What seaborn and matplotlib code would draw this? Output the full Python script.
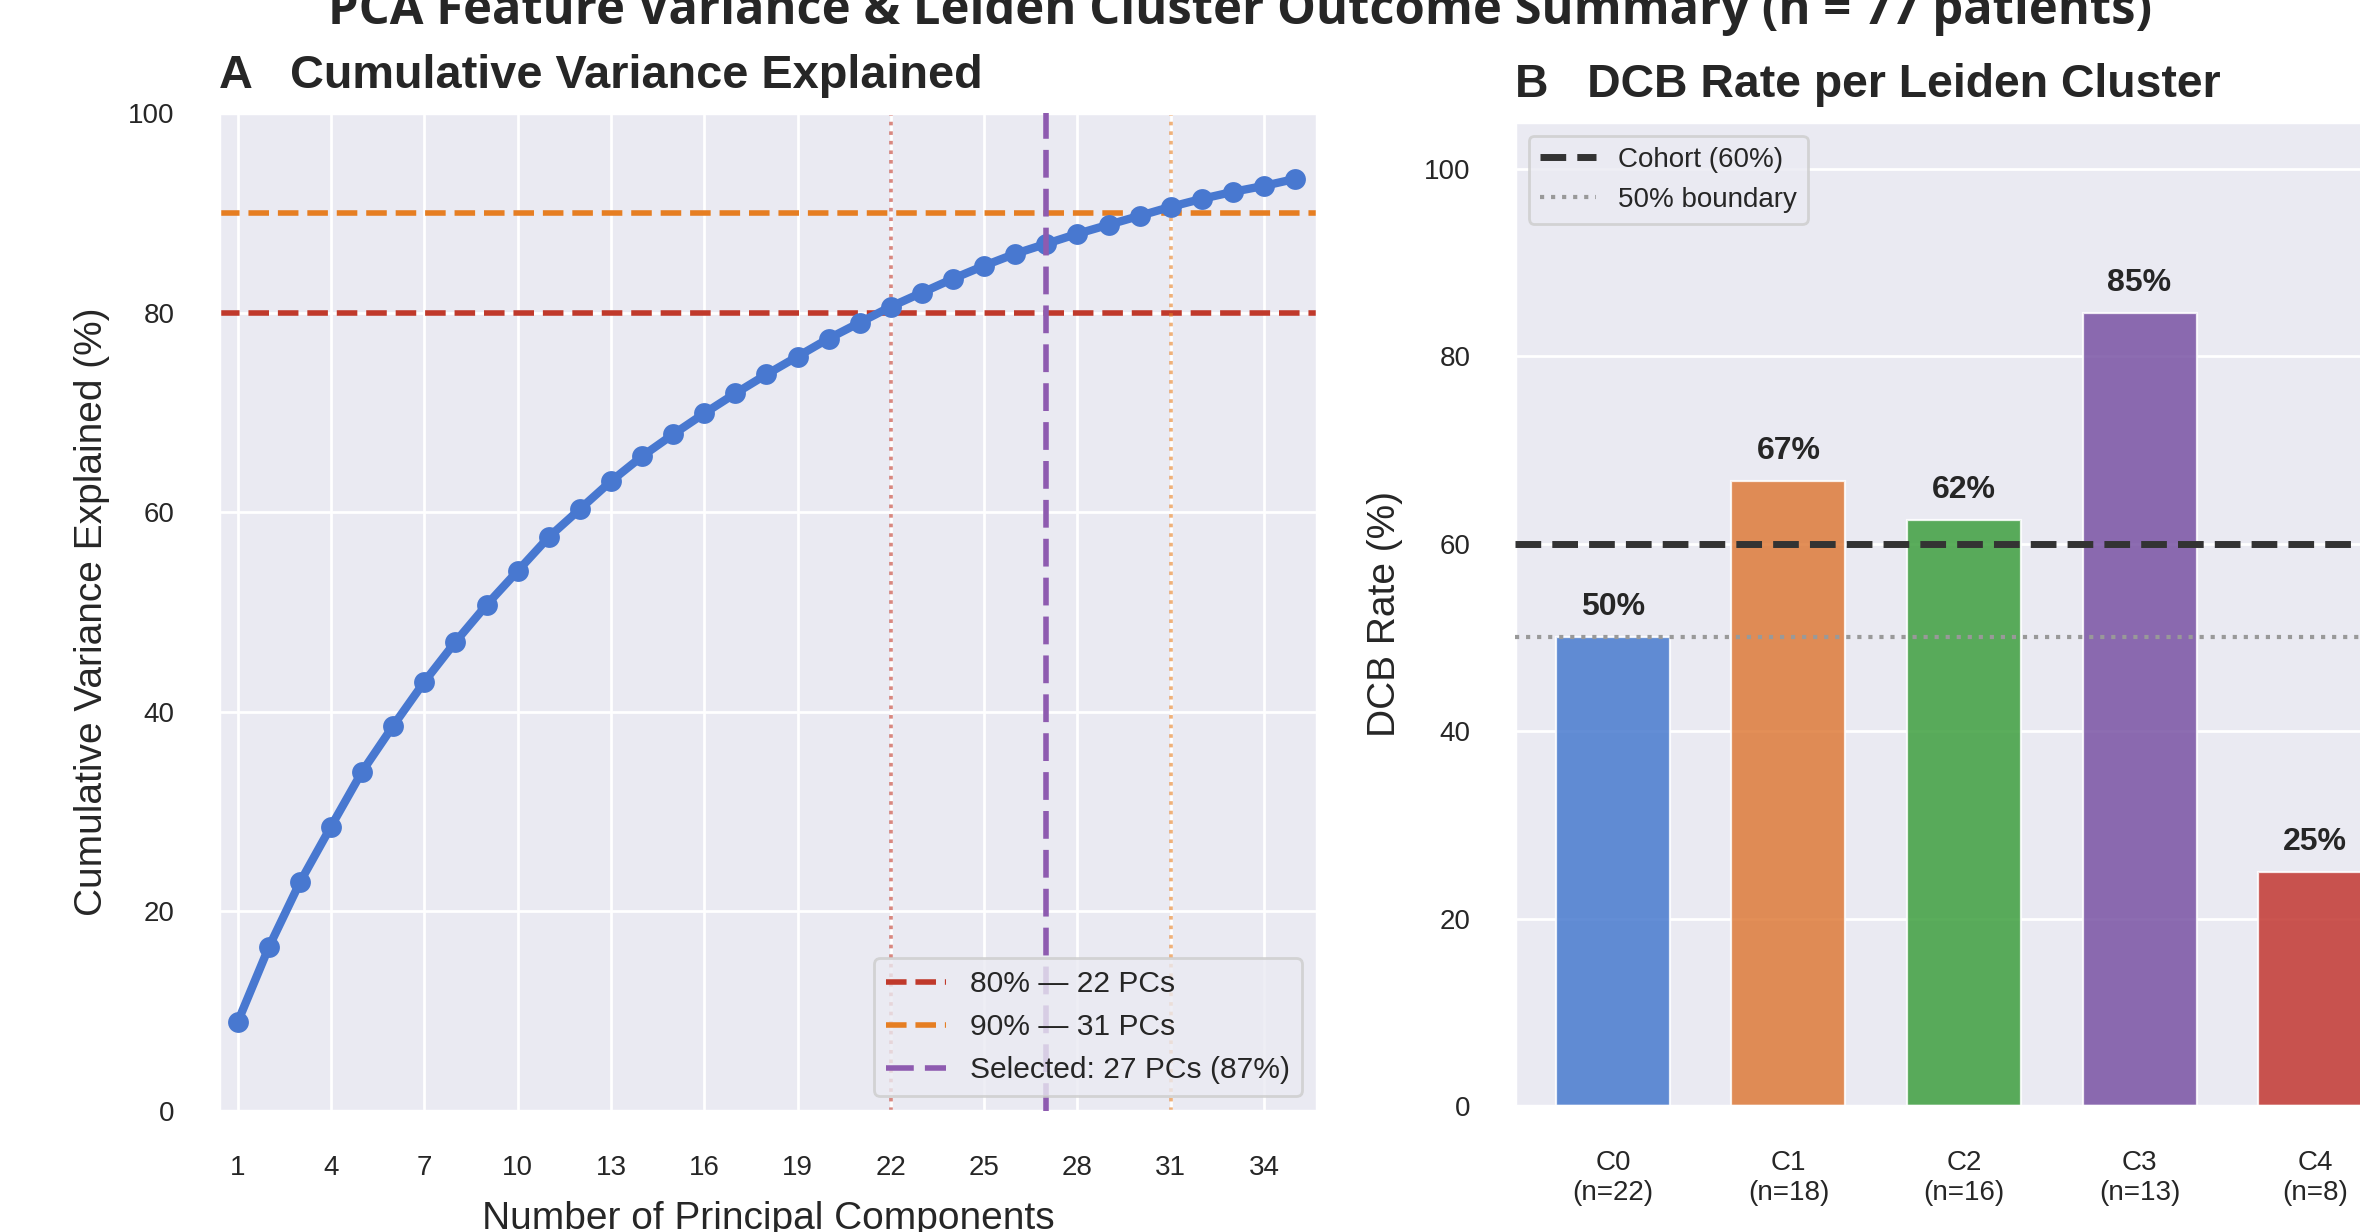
import numpy as np
import pandas as pd
import matplotlib
matplotlib.use("Agg")
import matplotlib.pyplot as plt
import seaborn as sns

# ---------------- data ----------------
pcs = list(range(1, 36))
cum_var = [8.9, 16.4, 22.9, 28.5, 34.0, 38.6, 43.0, 47.0, 50.7, 54.1,
           57.5, 60.3, 63.1, 65.6, 67.8, 69.9, 71.9, 73.8, 75.6, 77.4,
           79.0, 80.6, 82.0, 83.4, 84.7, 85.9, 86.9, 87.9, 88.8, 89.7,
           90.6, 91.4, 92.1, 92.7, 93.4]
pc_ticks = [1, 4, 7, 10, 13, 16, 19, 22, 25, 28, 31, 34]
thr80_pc = 22
thr90_pc = 31
selected_pc = 27
selected_pct = 87

clusters = ["C0", "C1", "C2", "C3", "C4"]
cluster_n = [22, 18, 16, 13, 8]
dcb_rate = [50.0, 66.7, 62.5, 84.6, 25.0]
cohort_rate = 60
boundary_rate = 50
bar_colors = ["#487ace", "#de7b3a", "#3e9f3f", "#7953a4", "#c23731"]

# ---------------- style ----------------
sns.set_theme(style="darkgrid")
plt.rcParams["font.family"] = ["Liberation Sans", "DejaVu Sans"]

fig = plt.figure(figsize=(11.8, 6.16), dpi=200)
W, H = 2360, 1232

def box(l, t, r, b):
    return [l / W, 1 - b / H, (r - l) / W, (b - t) / H]

axA = fig.add_axes(box(219, 113, 1317, 1111))
axB = fig.add_axes(box(1515, 122, 2413, 1106))

# ---------------- panel A ----------------
dfA = pd.DataFrame({"PC": pcs, "cum": cum_var})
sns.lineplot(data=dfA, x="PC", y="cum", ax=axA, color="#4878d0", lw=3,
             marker="o", markersize=7.5, markeredgewidth=0, zorder=3)
axA.axhline(80, color="#c0392b", ls="--", lw=2, zorder=2,
            label=f"80% \u2014 {thr80_pc} PCs")
axA.axhline(90, color="#e67e22", ls="--", lw=2, zorder=2,
            label=f"90% \u2014 {thr90_pc} PCs")
axA.axvline(thr80_pc, color="#c0392b", ls=":", lw=1.3, alpha=0.6, zorder=2)
axA.axvline(thr90_pc, color="#e67e22", ls=":", lw=1.3, alpha=0.6, zorder=2)
axA.axvline(selected_pc, color="#8e5bb0", ls=(0, (5, 2)), lw=2, zorder=4,
            label=f"Selected: {selected_pc} PCs ({selected_pct}%)")
axA.set_xlim(0.4, 35.7)
axA.set_ylim(0, 100)
axA.set_xticks(pc_ticks)
axA.set_yticks([0, 20, 40, 60, 80, 100])
axA.tick_params(axis="both", labelsize=10, pad=10)
axA.set_xlabel("Number of Principal Components", fontsize=14, labelpad=7)
axA.set_ylabel("Cumulative Variance Explained (%)", fontsize=14, labelpad=6.5)
axA.set_title("A   Cumulative Variance Explained", loc="left",
              fontsize=16.9, fontweight="bold", pad=9)
axA.legend(loc="lower right", fontsize=10.8)

# ---------------- panel B ----------------
tick_labels = [f"{c}\n(n={n})" for c, n in zip(clusters, cluster_n)]
dfB = pd.DataFrame({"cluster": tick_labels, "rate": dcb_rate})
sns.barplot(data=dfB, x="cluster", y="rate", hue="cluster",
            palette=bar_colors, saturation=1, width=0.65, alpha=0.85,
            edgecolor="white", linewidth=0.8, legend=False, ax=axB, zorder=2)
axB.axhline(cohort_rate, color="#333333", ls="--", lw=2.5, zorder=3,
            label=f"Cohort ({cohort_rate}%)")
axB.axhline(boundary_rate, color="#999999", ls=":", lw=1.5, zorder=3,
            label=f"{boundary_rate}% boundary")
for i, v in enumerate(dcb_rate):
    axB.text(i, v + 1.6, f"{v:.0f}%", ha="center", va="bottom",
             fontsize=11.5, fontweight="bold", color="#262626")
axB.set_xlim(-0.5575, 4.5575)
axB.set_ylim(0, 105)
axB.set_yticks([0, 20, 40, 60, 80, 100])
axB.tick_params(axis="both", labelsize=10, pad=10)
axB.set_xlabel("")
axB.set_ylabel("DCB Rate (%)", fontsize=14, labelpad=7.5)
axB.set_title("B   DCB Rate per Leiden Cluster", loc="left",
              fontsize=16.7, fontweight="bold", pad=9)
axB.legend(loc="upper left", fontsize=10)

fig.text(1240 / W, 1 - 24 / H,
         "PCA Feature Variance & Leiden Cluster Outcome Summary (n = 77 patients)",
         ha="center", va="baseline", fontsize=17.6, fontweight="bold",
         family=["Open Sans", "DejaVu Sans"])

fig.savefig("out.png", dpi=200)
